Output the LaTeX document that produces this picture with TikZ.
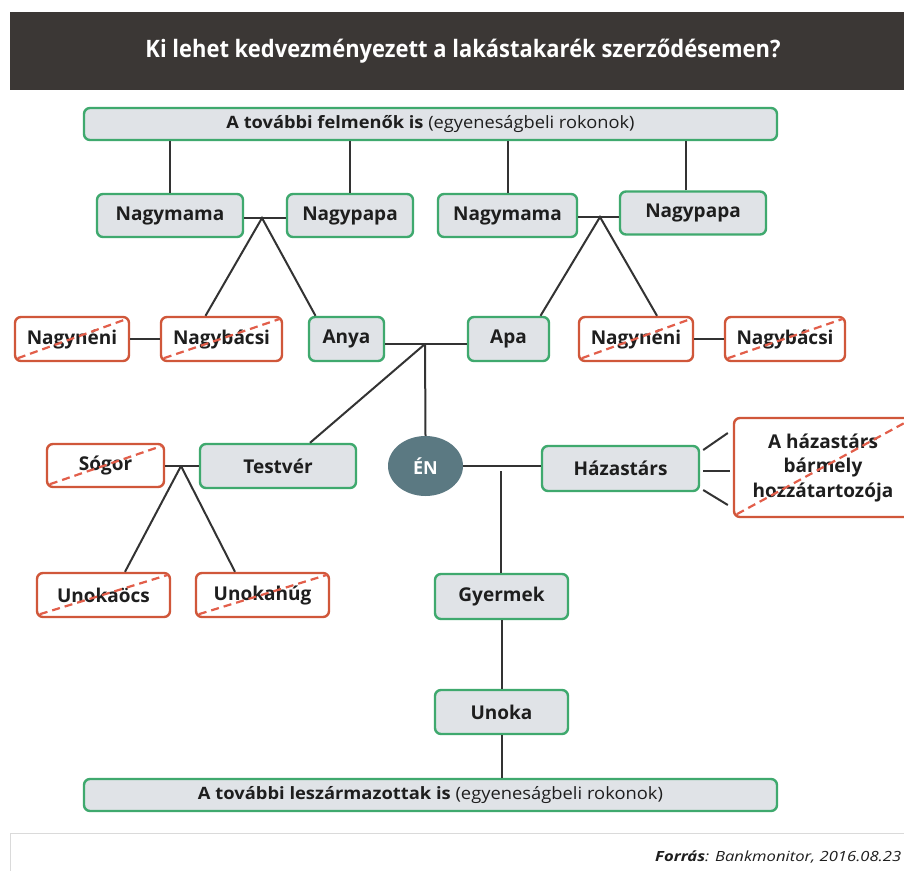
\documentclass[tikz,border=0pt]{standalone}
\usepackage{fontspec}
\usepackage{graphicx}
\setmainfont{Open Sans}
\usetikzlibrary{calc,shapes.geometric}
\definecolor{titlebg}{HTML}{3B3735}
\definecolor{gborder}{HTML}{3FA96E}
\definecolor{gfill}{HTML}{E0E3E7}
\definecolor{rborder}{HTML}{D0573A}
\definecolor{rdash}{HTML}{E25E4A}
\definecolor{connc}{HTML}{333333}
\definecolor{enfill}{HTML}{5B7982}
\definecolor{txt}{HTML}{1E1E1E}
\definecolor{footb}{HTML}{DADADA}
\tikzset{
  basebox/.style={rectangle, rounded corners=6pt, line width=2.4pt, inner sep=0pt,
    font=\fontsize{19}{24.5}\selectfont\bfseries, text=txt, align=center},
  gbox/.style={basebox, draw=gborder, fill=gfill},
  rbox/.style={basebox, draw=rborder, fill=white},
  conn/.style={draw=connc, line width=2pt},
  crossline/.style={draw=rdash, line width=2.2pt, dash pattern=on 8pt off 5pt},
}
\newcommand{\crossout}[1]{\draw[crossline] ($(#1.south west)+(4,-4)$) -- ($(#1.north east)+(-3,3)$);}
\begin{document}
\begin{tikzpicture}[x=1pt,y=-1pt]
\useasboundingbox (0,0) rectangle (904,870);
\fill[white] (0,0) rectangle (904,870);
% title
\fill[titlebg] (10,12) rectangle (912,90);
\node[text=white, inner sep=0pt] (title) at (463,51)
  {\resizebox{635pt}{\height}{\fontsize{24}{28}\selectfont\bfseries Ki lehet kedvezményezett a lakástakarék szerződésemen?}};
% top and bottom bars
\node[gbox, minimum width=693pt, minimum height=32pt] (top) at (430.5,124)
  {\resizebox{408pt}{\height}{\fontsize{17}{20}\selectfont\bfseries A további felmenők is \mdseries(egyeneságbeli rokonok)}};
\node[gbox, minimum width=693pt, minimum height=32pt] (bottom) at (430.5,795)
  {\resizebox{465pt}{\height}{\fontsize{17}{20}\selectfont\bfseries A további leszármazottak is \mdseries(egyeneságbeli rokonok)}};
% grandparents
\node[gbox, minimum width=146pt, minimum height=43pt] (nm1) at (170,215.5) {Nagymama};
\node[gbox, minimum width=126pt, minimum height=43pt] (np1) at (350,215.5) {Nagypapa};
\node[gbox, minimum width=139pt, minimum height=43pt] (nm2) at (507.5,215.5) {Nagymama};
\node[gbox, minimum width=146pt, minimum height=43pt] (np2) at (693,213) {Nagypapa};
% parents row
\node[rbox, minimum width=114pt, minimum height=44pt] (nn1) at (72,339) {Nagynéni};
\node[rbox, minimum width=121pt, minimum height=44pt] (nb1) at (221.5,339) {Nagybácsi};
\node[gbox, minimum width=75pt, minimum height=44pt] (anya) at (346.5,339) {Anya};
\node[gbox, minimum width=81pt, minimum height=44pt] (apa) at (508.5,339) {Apa};
\node[rbox, minimum width=114pt, minimum height=44pt] (nn2) at (636,339) {Nagynéni};
\node[rbox, minimum width=120pt, minimum height=44pt] (nb2) at (785,339) {Nagybácsi};
% own row
\node[rbox, minimum width=117pt, minimum height=43pt] (sogor) at (105.5,465.5) {Sógor};
\node[gbox, minimum width=156pt, minimum height=44pt] (testver) at (278,466) {Testvér};
\node[ellipse, fill=enfill, minimum width=75pt, minimum height=60pt, inner sep=0pt,
  text=white, font=\fontsize{18}{20}\selectfont\bfseries] (en) at (425.5,466) {ÉN};
\node[gbox, minimum width=157pt, minimum height=45pt] (hazastars) at (620.5,468.5) {Házastárs};
\node[rbox, minimum width=178pt, minimum height=99pt] (hozza) at (823,467.5) {A házastárs\\bármely\\hozzátartozója};
% children row
\node[rbox, minimum width=133pt, minimum height=44pt] (unokaocs) at (103.5,595) {Unokaöcs};
\node[rbox, minimum width=133pt, minimum height=44pt] (unokahug) at (262.5,595) {Unokahúg};
\node[gbox, minimum width=133pt, minimum height=45pt] (gyermek) at (501.5,596.5) {Gyermek};
\node[gbox, minimum width=133pt, minimum height=44pt] (unoka) at (501.5,712) {Unoka};
% connectors from top bar
\draw[conn] (nm1.north) -- (nm1.north |- top.south);
\draw[conn] (np1.north) -- (np1.north |- top.south);
\draw[conn] (nm2.north) -- (nm2.north |- top.south);
\coordinate (np2t) at ($(np2.north)+(-7,0)$);
\draw[conn] (np2t) -- (np2t |- top.south);
% grandparent couples
\coordinate (j1) at (262,218);
\draw[conn] (nm1.east |- j1) -- (np1.west |- j1);
\draw[conn] ($(nb1.north)+(-16,0)$) -- (j1) -- ($(anya.north)+(-31,0)$);
\coordinate (j2) at (600,217);
\draw[conn] (nm2.east |- j2) -- (np2.west |- j2);
\draw[conn] ($(apa.north)+(32,0)$) -- (j2) -- ($(nn2.north)+(21,0)$);
% aunts / uncles
\draw[conn] (nn1) -- (nb1);
\draw[conn] (nn2) -- (nb2);
% parents
\coordinate (j3) at (425,344);
\draw[conn] (anya.east |- j3) -- (apa.west |- j3);
\draw[conn] (j3) -- (en.north);
\draw[conn] (j3) -- ($(testver.north)+(32,0)$);
% siblings
\coordinate (j4) at (181,466);
\draw[conn] (sogor.east |- j4) -- (testver.west |- j4);
\draw[conn] (j4) -- ($(unokaocs.north)+(21.5,0)$);
\draw[conn] (j4) -- ($(unokahug.north)+(-27.5,0)$);
% spouse
\draw[conn] (en.east) -- (hazastars.west |- en.east);
\draw[conn] ($(hazastars.east)+(3,-18.5)$) -- ($(hozza.west)+(-5,-34.5)$);
\draw[conn] ($(hazastars.east)+(3,2.5)$) -- ($(hozza.west)+(-3,3.5)$);
\draw[conn] ($(hazastars.east)+(3,21.5)$) -- ($(hozza.west)+(-5,37.5)$);
% descendants
\coordinate (j5) at (501,471);
\draw[conn] (j5) -- (j5 |- gyermek.north);
\draw[conn] (gyermek.south) -- (unoka.north);
\draw[conn] (unoka.south) -- (unoka.south |- bottom.north);
% cross-outs
\crossout{nn1}
\crossout{nb1}
\crossout{nn2}
\crossout{nb2}
\crossout{sogor}
\crossout{hozza}
\crossout{unokaocs}
\crossout{unokahug}
% footer
\draw[footb, line width=1pt] (10,875) -- (10,833) -- (912,833);
\node[anchor=west, inner sep=0pt, text=txt] (src) at (655,857)
  {\resizebox{246pt}{\height}{\fontsize{14}{16}\selectfont\itshape\bfseries Forrás\mdseries: Bankmonitor, 2016.08.23}};
\end{tikzpicture}
\end{document}
